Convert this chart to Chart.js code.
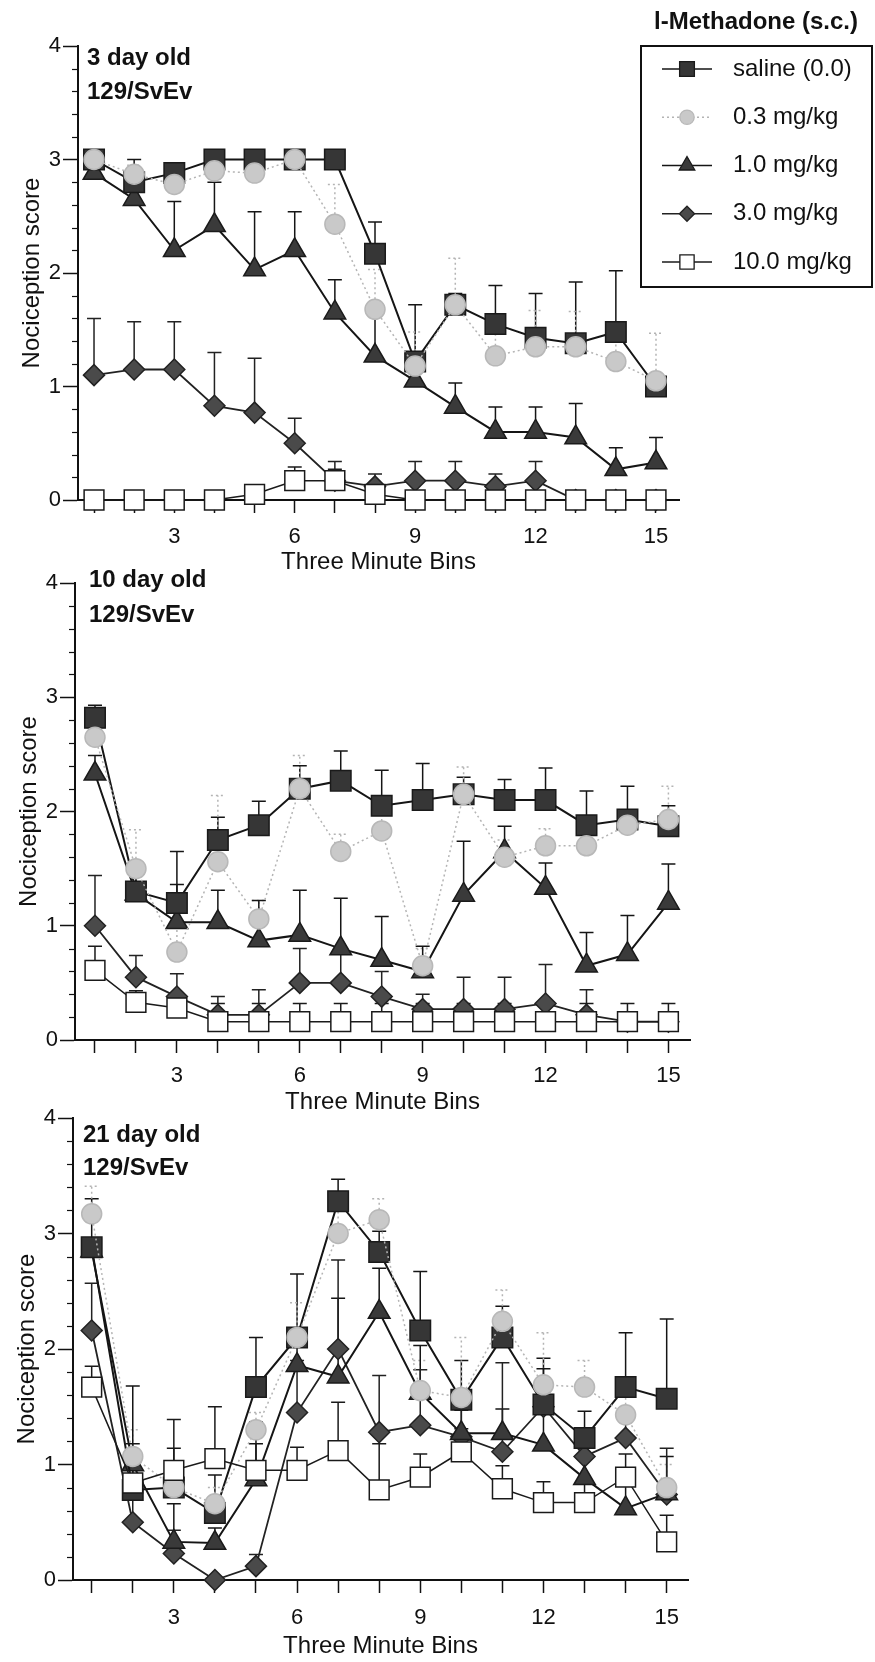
<!DOCTYPE html>
<html lang="en">
<head>
<meta charset="utf-8">
<title>l-Methadone nociception by age</title>
<script src="https://cdn.jsdelivr.net/npm/chart.js@4/dist/chart.umd.min.js"></script>
<style>
  html, body { margin: 0; padding: 0; background: #fff; }
  #wrap { position: relative; width: 875px; height: 1662px; overflow: hidden; }
  #wrap canvas { position: absolute; left: 0; }
</style>
</head>
<body>
<div id="wrap">
  <canvas id="day3"></canvas>
  <canvas id="day10"></canvas>
  <canvas id="day21"></canvas>
</div>
<script>
const bins = [1, 2, 3, 4, 5, 6, 7, 8, 9, 10, 11, 12, 13, 14, 15];
const doseNames = ["saline (0.0)", "0.3 mg/kg", "1.0 mg/kg", "3.0 mg/kg", "10.0 mg/kg"];
const keyTitle = "l-Methadone (s.c.)";
const yTitle = "Nociception score";
const xTitle = "Three Minute Bins";

// 3 day old: mean score and SEM per bin
const d3Saline    = [3.0, 2.8, 2.88, 3.0, 3.0, 3.0, 3.0, 2.17, 1.22, 1.72, 1.55, 1.43, 1.38, 1.48, 1.0];
const d3SalineSem = [0.03, 0.2, 0.07, 0.04, 0.04, 0.04, 0.04, 0.28, 0.5, 0.1, 0.34, 0.39, 0.54, 0.54, 0.08];
const d3Dose03    = [3.0, 2.87, 2.78, 2.9, 2.88, 3.0, 2.43, 1.68, 1.18, 1.72, 1.27, 1.35, 1.35, 1.22, 1.05];
const d3Dose03Sem = [0.05, 0.08, 0.12, 0.1, 0.12, 0.05, 0.35, 0.35, 0.3, 0.41, 0.33, 0.32, 0.31, 0.28, 0.42];
const d3Dose1     = [2.88, 2.65, 2.2, 2.42, 2.03, 2.2, 1.65, 1.27, 1.05, 0.82, 0.6, 0.6, 0.55, 0.27, 0.33];
const d3Dose1Sem  = [0.07, 0.12, 0.43, 0.38, 0.51, 0.34, 0.29, 0.4, 0.15, 0.21, 0.22, 0.22, 0.3, 0.19, 0.22];
const d3Dose3     = [1.1, 1.15, 1.15, 0.83, 0.77, 0.5, 0.17, 0.12, 0.17, 0.17, 0.12, 0.17, 0, 0, 0];
const d3Dose3Sem  = [0.5, 0.42, 0.42, 0.47, 0.48, 0.22, 0.17, 0.11, 0.17, 0.17, 0.11, 0.17, 0, 0, 0];
const d3Dose10    = [0, 0, 0, 0, 0.05, 0.17, 0.17, 0.05, 0, 0, 0, 0, 0, 0, 0];
const d3Dose10Sem = [0, 0, 0, 0, 0.04, 0.12, 0.1, 0.05, 0, 0, 0, 0, 0, 0, 0];

// 10 day old
const d10Saline    = [2.82, 1.3, 1.2, 1.75, 1.88, 2.2, 2.27, 2.05, 2.1, 2.15, 2.1, 2.1, 1.88, 1.93, 1.87];
const d10SalineSem = [0.11, 0.25, 0.45, 0.2, 0.21, 0.2, 0.26, 0.31, 0.32, 0.15, 0.18, 0.28, 0.3, 0.29, 0.18];
const d10Dose03    = [2.65, 1.5, 0.77, 1.56, 1.06, 2.2, 1.65, 1.83, 0.65, 2.15, 1.6, 1.7, 1.7, 1.88, 1.93];
const d10Dose03Sem = [0.25, 0.34, 0.23, 0.58, 0.16, 0.29, 0.15, 0.17, 0.15, 0.24, 0.15, 0.15, 0.15, 0.12, 0.29];
const d10Dose1     = [2.33, 1.28, 1.03, 1.03, 0.87, 0.92, 0.8, 0.7, 0.6, 1.27, 1.65, 1.33, 0.65, 0.75, 1.2];
const d10Dose1Sem  = [0.16, 0.17, 0.33, 0.28, 0.35, 0.39, 0.44, 0.38, 0.22, 0.47, 0.22, 0.22, 0.29, 0.34, 0.34];
const d10Dose3     = [1.0, 0.55, 0.38, 0.22, 0.22, 0.5, 0.5, 0.38, 0.27, 0.27, 0.27, 0.32, 0.22, 0.16, 0.16];
const d10Dose3Sem  = [0.44, 0.19, 0.2, 0.16, 0.22, 0.3, 0.3, 0.22, 0.13, 0.28, 0.28, 0.34, 0.22, 0.04, 0.04];
const d10Dose10    = [0.61, 0.33, 0.28, 0.16, 0.16, 0.16, 0.16, 0.16, 0.16, 0.16, 0.16, 0.16, 0.16, 0.16, 0.16];
const d10Dose10Sem = [0.21, 0.1, 0.08, 0.16, 0.16, 0.16, 0.16, 0.16, 0.16, 0.16, 0.16, 0.16, 0.16, 0.16, 0.16];

// 21 day old
const d21Saline    = [2.88, 0.78, 0.8, 0.58, 1.67, 2.1, 3.28, 2.84, 2.16, 1.56, 2.1, 1.52, 1.23, 1.67, 1.57];
const d21SalineSem = [0.42, 0.4, 0.34, 0.33, 0.43, 0.55, 0.19, 0.18, 0.51, 0.34, 0.27, 0.4, 0.23, 0.47, 0.69];
const d21Dose03    = [3.17, 1.07, 0.8, 0.66, 1.3, 2.1, 3.0, 3.12, 1.64, 1.58, 2.24, 1.69, 1.67, 1.43, 0.8];
const d21Dose03Sem = [0.24, 0.23, 0.2, 0.14, 0.15, 0.3, 0.2, 0.18, 0.26, 0.52, 0.27, 0.45, 0.23, 0.17, 0.2];
const d21Dose1     = [2.85, 1.0, 0.33, 0.32, 0.87, 1.86, 1.76, 2.32, 1.62, 1.27, 1.27, 1.17, 0.88, 0.62, 0.75];
const d21Dose1Sem  = [0.1, 0.68, 0.33, 0.13, 0.31, 0.24, 0.68, 0.38, 0.41, 0.2, 0.21, 0.66, 0.2, 0.2, 0.32];
const d21Dose3     = [2.16, 0.5, 0.23, 0, 0.12, 1.45, 2.0, 1.28, 1.34, 1.24, 1.11, 1.5, 1.07, 1.23, 0.74];
const d21Dose3Sem  = [0.41, 0.2, 0.2, 0, 0.1, 0.45, 0.77, 0.49, 0.48, 0.26, 0.77, 0.25, 0.18, 0.17, 0.4];
const d21Dose10    = [1.67, 0.84, 0.95, 1.05, 0.95, 0.95, 1.12, 0.78, 0.89, 1.11, 0.79, 0.67, 0.67, 0.89, 0.33];
const d21Dose10Sem = [0.18, 0.2, 0.44, 0.45, 0.42, 0.2, 0.42, 0.4, 0.2, 0.2, 0.2, 0.18, 0.18, 0.2, 0.23];

const FONT = '"Liberation Sans", Arial, Helvetica, sans-serif';
const INK = "#111";
const Y_W = 60;  // width of the y scale box

// marker + line look for each dose, in the same order as doseNames
const looks = [
  { shape: "rect",     r: 14.5, fill: "#363636", edge: "#1a1a1a", line: "#151515", width: 2,   dash: [],     z: 3 },
  { shape: "circle",   r: 10,   fill: "#c9c9c9", edge: "#b8b8b8", line: "#b4b4b4", width: 1.5, dash: [2, 3], z: 2 },
  { shape: "triangle", r: 12.5, fill: "#3a3a3a", edge: "#1a1a1a", line: "#151515", width: 2,   dash: [],     z: 4 },
  { shape: "rectRot",  r: 10.5, fill: "#4a4a4a", edge: "#222",    line: "#222",    width: 1.8, dash: [],     z: 5 },
  { shape: "rect",     r: 14,   fill: "#ffffff", edge: "#1a1a1a", line: "#1a1a1a", width: 1.5, dash: [],     z: 1 }
];

const panels = [
  { id: "day3", top: 0, height: 577, area: { left: 78, right: 679, top: 46, bottom: 500 },
    xMin: 0.601, xMax: 15.573, axisH: 77, labelGap: 11,
    tag: ["3 day old", "129/SvEv"], tagX: 87, tagY: [58, 92], key: true,
    means: [d3Saline, d3Dose03, d3Dose1, d3Dose3, d3Dose10],
    sems: [d3SalineSem, d3Dose03Sem, d3Dose1Sem, d3Dose3Sem, d3Dose10Sem] },
  { id: "day10", top: 555, height: 562, area: { left: 75, right: 690, top: 28, bottom: 485 },
    xMin: 0.512, xMax: 15.527, axisH: 77, labelGap: 10,
    tag: ["10 day old", "129/SvEv"], tagX: 89, tagY: [25, 60], key: false,
    means: [d10Saline, d10Dose03, d10Dose1, d10Dose3, d10Dose10],
    sems: [d10SalineSem, d10Dose03Sem, d10Dose1Sem, d10Dose3Sem, d10Dose10Sem] },
  { id: "day21", top: 1090, height: 571, area: { left: 73, right: 688, top: 28, bottom: 490 },
    xMin: 0.545, xMax: 15.519, axisH: 81, labelGap: 12,
    tag: ["21 day old", "129/SvEv"], tagX: 83, tagY: [45, 78], key: false,
    means: [d21Saline, d21Dose03, d21Dose1, d21Dose3, d21Dose10],
    sems: [d21SalineSem, d21Dose03Sem, d21Dose1Sem, d21Dose3Sem, d21Dose10Sem] }
];

function drawMark(ctx, shape, x, y, r) {
  ctx.beginPath();
  if (shape === "circle") {
    ctx.arc(x, y, r, 0, Math.PI * 2);
  } else if (shape === "rect") {
    const h = r * Math.SQRT1_2;
    ctx.rect(x - h, y - h, 2 * h, 2 * h);
  } else if (shape === "rectRot") {
    ctx.moveTo(x - r, y); ctx.lineTo(x, y - r); ctx.lineTo(x + r, y); ctx.lineTo(x, y + r);
    ctx.closePath();
  } else if (shape === "triangle") {
    for (let k = 0; k < 3; k++) {
      const a = k * 2 * Math.PI / 3;
      const px = x + Math.sin(a) * r, py = y - Math.cos(a) * r;
      k ? ctx.lineTo(px, py) : ctx.moveTo(px, py);
    }
    ctx.closePath();
  }
  ctx.fill();
  ctx.stroke();
}

/* upward SEM bars, under the markers */
const errorBars = {
  id: "errorBars",
  beforeDatasetsDraw(chart) {
    const { ctx, scales: { x, y } } = chart;
    chart.data.datasets.forEach((ds, i) => {
      if (!chart.isDatasetVisible(i)) return;
      ctx.save();
      ctx.strokeStyle = ds.borderColor;
      ctx.lineWidth = 1.5;
      ctx.setLineDash(ds.borderDash || []);
      ds.data.forEach((p, k) => {
        const s = ds.sem[k];
        if (!s) return;
        const px = x.getPixelForValue(p.x);
        const y0 = y.getPixelForValue(p.y);
        const y1 = y.getPixelForValue(p.y + s);
        ctx.beginPath();
        ctx.moveTo(px, y0);
        ctx.lineTo(px, y1);
        ctx.moveTo(px - 7, y1);
        ctx.lineTo(px + 7, y1);
        ctx.stroke();
      });
      ctx.restore();
    });
  }
};

/* short ticks every 0.2 on the score axis */
const minorTicks = {
  id: "minorTicks",
  afterDraw(chart) {
    const { ctx, chartArea, scales: { y } } = chart;
    ctx.save();
    ctx.strokeStyle = INK;
    ctx.lineWidth = 1.2;
    for (let k = 1; k < 20; k++) {
      if (k % 5 === 0) continue;
      const py = Math.round(y.getPixelForValue(k / 5)) + 0.5;
      ctx.beginPath();
      ctx.moveTo(chartArea.left, py);
      ctx.lineTo(chartArea.left - 6, py);
      ctx.stroke();
    }
    ctx.restore();
  }
};

/* age / strain label in the top left corner */
const panelTag = {
  id: "panelTag",
  afterDraw(chart, args, opts) {
    const { ctx } = chart;
    ctx.save();
    ctx.fillStyle = INK;
    ctx.font = "bold 24px " + FONT;
    ctx.textAlign = "left";
    ctx.textBaseline = "middle";
    opts.lines.forEach((t, k) => ctx.fillText(t, opts.x, opts.y[k]));
    ctx.restore();
  }
};

/* dose key, boxed, top right of the first panel */
const doseKey = {
  id: "doseKey",
  afterDraw(chart, args, opts) {
    if (!opts.show) return;
    const { ctx } = chart;
    const box = { left: 641, top: 46, right: 872, bottom: 287 };
    ctx.save();
    ctx.fillStyle = INK;
    ctx.font = "bold 24px " + FONT;
    ctx.textAlign = "center";
    ctx.textBaseline = "middle";
    ctx.fillText(keyTitle, 756, 22);

    ctx.strokeStyle = INK;
    ctx.lineWidth = 2;
    ctx.strokeRect(box.left, box.top, box.right - box.left, box.bottom - box.top);

    ctx.font = "24px " + FONT;
    ctx.textAlign = "left";
    chart.data.datasets.forEach((ds, i) => {
      const lk = looks[i];
      const cy = 69 + i * 48.25;
      ctx.save();
      ctx.strokeStyle = lk.line;
      ctx.lineWidth = 1.3;
      ctx.setLineDash(lk.dash);
      ctx.beginPath();
      ctx.moveTo(662, cy);
      ctx.lineTo(712, cy);
      ctx.stroke();
      ctx.setLineDash([]);
      ctx.fillStyle = lk.fill;
      ctx.strokeStyle = lk.edge;
      ctx.lineWidth = 1.3;
      drawMark(ctx, lk.shape, 687, cy, lk.r * 0.72);
      ctx.restore();
      ctx.fillText(ds.label, 733, cy);
    });
    ctx.restore();
  }
};

Chart.defaults.font.family = FONT;
Chart.defaults.color = INK;

function buildPanel(p) {
  const canvas = document.getElementById(p.id);
  canvas.width = 875;
  canvas.height = p.height;
  canvas.style.top = p.top + "px";

  const datasets = doseNames.map((name, i) => {
    const lk = looks[i];
    return {
      label: name,
      data: bins.map((b, k) => ({ x: b, y: p.means[i][k] })),
      sem: p.sems[i],
      order: lk.z,
      borderColor: lk.line,
      borderWidth: lk.width,
      borderDash: lk.dash,
      pointStyle: lk.shape,
      pointRadius: lk.r,
      pointBackgroundColor: lk.fill,
      pointBorderColor: lk.edge,
      pointBorderWidth: 1.5,
      tension: 0,
      fill: false,
      clip: false
    };
  });

  return new Chart(canvas, {
    type: "line",
    data: { datasets },
    options: {
      responsive: false,
      animation: false,
      events: [],
      layout: {
        padding: {
          left: p.area.left - Y_W,
          top: p.area.top,
          right: 875 - p.area.right,
          bottom: p.height - p.area.bottom - p.axisH
        }
      },
      plugins: {
        legend: { display: false },
        tooltip: { enabled: false },
        panelTag: { lines: p.tag, x: p.tagX, y: p.tagY },
        doseKey: { show: p.key }
      },
      scales: {
        x: {
          type: "linear",
          min: p.xMin,
          max: p.xMax,
          afterFit: s => { s.height = p.axisH; },
          ticks: {
            stepSize: 1,
            includeBounds: false,
            autoSkip: false,
            maxRotation: 0,
            padding: p.labelGap,
            font: { size: 22 },
            color: INK,
            callback: v => (v % 3 === 0 ? String(v) : "")
          },
          grid: { drawOnChartArea: false, drawTicks: true, tickLength: 13, tickWidth: 1.5, tickColor: INK },
          border: { display: true, color: INK, width: 2 },
          title: { display: true, text: xTitle, font: { size: 24 }, color: INK, padding: 0 }
        },
        y: {
          type: "linear",
          min: 0,
          max: 4,
          afterFit: s => { s.width = Y_W; },
          ticks: { stepSize: 1, padding: 2, font: { size: 22 }, color: INK },
          grid: { drawOnChartArea: false, drawTicks: true, tickLength: 15, tickWidth: 1.5, tickColor: INK },
          border: { display: true, color: INK, width: 2 },
          title: { display: true, text: yTitle, font: { size: 24 }, color: INK, padding: 0 }
        }
      }
    },
    plugins: [errorBars, minorTicks, panelTag, doseKey]
  });
}

let charts = [];
document.addEventListener("DOMContentLoaded", () => {
  charts = panels.map(buildPanel);
});
</script>
</body>
</html>
